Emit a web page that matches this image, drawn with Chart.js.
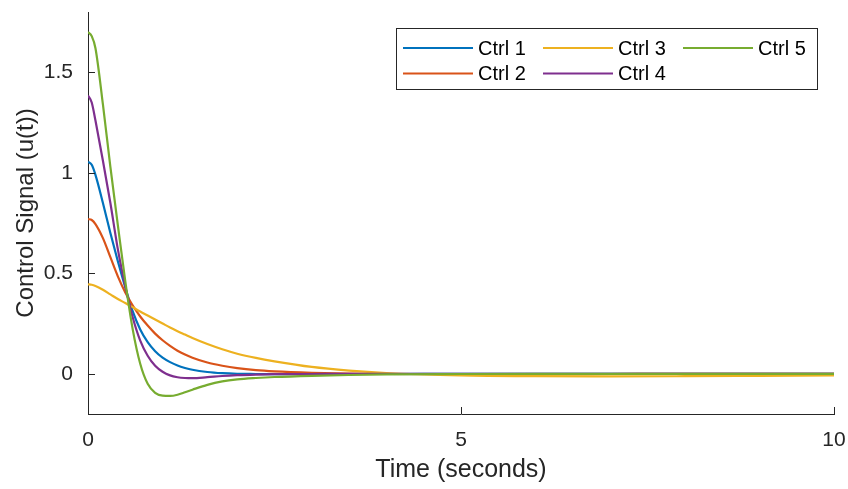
<!DOCTYPE html>
<html>
<head>
<meta charset="utf-8">
<script src="https://cdn.jsdelivr.net/npm/chart.js@4.4.1/dist/chart.umd.min.js"></script>
<style>
  html, body { margin: 0; padding: 0; background: #ffffff; }
  #wrap { width: 848px; height: 489px; }
</style>
</head>
<body>
<div id="wrap"><canvas id="c" width="848" height="489"></canvas></div>
<script>
// ---- Data ----
const times = [0, 0.05, 0.1, 0.2, 0.3, 0.4, 0.5, 0.6, 0.7, 0.8, 0.9, 1.0, 1.1, 1.2, 1.3, 1.4, 1.6, 1.8, 2.0, 2.25, 2.5, 3, 3.5, 4, 5, 6, 7, 8, 9, 10];
const seriesNames = ["Ctrl 1", "Ctrl 2", "Ctrl 3", "Ctrl 4", "Ctrl 5"];
const ctrl1 = [1.055, 1.04, 0.99, 0.85, 0.70, 0.56, 0.43, 0.31, 0.22, 0.157, 0.112, 0.08, 0.058, 0.041, 0.029, 0.02, 0.009, 0.003, 0.0, -0.001, -0.002, -0.002, -0.001, -0.001, 0, 0, 0, 0, 0, 0];
const ctrl2 = [0.77, 0.765, 0.745, 0.675, 0.58, 0.485, 0.405, 0.34, 0.285, 0.24, 0.20, 0.167, 0.139, 0.115, 0.096, 0.08, 0.056, 0.04, 0.028, 0.018, 0.012, 0.005, 0.001, -0.001, -0.002, -0.002, -0.001, 0, 0, 0];
const ctrl3 = [0.445, 0.443, 0.437, 0.418, 0.395, 0.372, 0.352, 0.331, 0.31, 0.29, 0.27, 0.25, 0.23, 0.212, 0.195, 0.178, 0.148, 0.122, 0.10, 0.079, 0.062, 0.034, 0.016, 0.004, -0.008, -0.012, -0.013, -0.012, -0.01, -0.008];
const ctrl4 = [1.385, 1.35, 1.26, 1.06, 0.85, 0.62, 0.435, 0.28, 0.165, 0.09, 0.04, 0.01, -0.008, -0.017, -0.021, -0.022, -0.017, -0.011, -0.007, -0.004, -0.002, -0.001, 0, 0, 0, 0, 0, 0, 0, 0];
const ctrl5 = [1.70, 1.68, 1.62, 1.34, 1.03, 0.74, 0.46, 0.22, 0.05, -0.05, -0.095, -0.109, -0.11, -0.104, -0.092, -0.079, -0.055, -0.038, -0.028, -0.021, -0.016, -0.01, -0.006, -0.003, -0.001, 0, 0, 0, 0, 0];
const xTicks = [0, 5, 10];
const yTicks = [0, 0.5, 1, 1.5];
const xTickLabels = ["0", "5", "10"];
const yTickLabels = ["0", "0.5", "1", "1.5"];
const xRange = [0, 10];
const yRange = [-0.2, 1.8];

// ---- Styling ----
const colors = ["#0072BD", "#D95319", "#EDB120", "#7E2F8E", "#77AC30"];
const FONT = "'Liberation Sans', Arial, Helvetica, sans-serif";
const AXIS = "#262626";

const allSeries = [ctrl1, ctrl2, ctrl3, ctrl4, ctrl5];
const datasets = allSeries.map((vals, i) => ({
  label: seriesNames[i],
  data: times.map((t, k) => ({ x: t, y: vals[k] })),
  borderColor: colors[i],
  backgroundColor: colors[i],
  borderWidth: 2.2,
  pointRadius: 0,
  fill: false,
  cubicInterpolationMode: 'monotone',
  order: 5 - i
}));

const innerTicks = {
  id: 'innerTicks',
  afterDraw(chart) {
    const ctx = chart.ctx;
    const xs = chart.scales.x, ys = chart.scales.y;
    const a = chart.chartArea;
    ctx.save();
    ctx.strokeStyle = AXIS;
    ctx.lineWidth = 1;
    ctx.beginPath();
    xs.ticks.forEach(t => {
      const px = Math.round(xs.getPixelForValue(t.value)) + 0.5;
      ctx.moveTo(px, a.bottom);
      ctx.lineTo(px, a.bottom - 7);
    });
    ys.ticks.forEach(t => {
      const py = Math.round(ys.getPixelForValue(t.value)) + 0.5;
      ctx.moveTo(a.left, py);
      ctx.lineTo(a.left + 7, py);
    });
    ctx.stroke();
    ctx.restore();
  }
};

const boxLegend = {
  id: 'boxLegend',
  afterDraw(chart) {
    const ctx = chart.ctx;
    const bx = 396, by = 28, bw = 421, bh = 61;
    ctx.save();
    ctx.fillStyle = '#ffffff';
    ctx.fillRect(bx, by, bw, bh);
    ctx.strokeStyle = AXIS;
    ctx.lineWidth = 1;
    ctx.strokeRect(bx + 0.5, by + 0.5, bw, bh);
    ctx.font = '20px ' + FONT;
    ctx.textBaseline = 'middle';
    ctx.textAlign = 'left';
    chart.data.datasets.forEach((d, i) => {
      const col = Math.floor(i / 2), row = i % 2;
      const x0 = 403 + col * 140;
      const y0 = 48 + row * 25.5;
      ctx.strokeStyle = d.borderColor;
      ctx.lineWidth = 2.2;
      ctx.beginPath();
      ctx.moveTo(x0, y0);
      ctx.lineTo(x0 + 70, y0);
      ctx.stroke();
      ctx.fillStyle = '#000000';
      ctx.fillText(d.label, x0 + 75, y0 + 1);
    });
    ctx.restore();
  }
};

new Chart(document.getElementById('c'), {
  type: 'line',
  data: { datasets },
  options: {
    responsive: false,
    devicePixelRatio: 1,
    animation: false,
    layout: { padding: { left: 0, right: 14, top: 12, bottom: 0 } },
    plugins: { legend: { display: false }, tooltip: { enabled: false } },
    scales: {
      x: {
        type: 'linear',
        min: xRange[0], max: xRange[1],
        afterBuildTicks: s => { s.ticks = xTicks.map(v => ({ value: v })); },
        afterFit: s => { s.height = 75; s.paddingLeft = 0; s.paddingRight = 0; },
        border: { display: true, color: AXIS, width: 1 },
        grid: { display: false, drawTicks: false },
        ticks: {
          color: AXIS, font: { family: FONT, size: 21 }, padding: 14, maxRotation: 0,
          callback: (v, i) => xTickLabels[i]
        },
        title: { display: true, text: 'Time (seconds)', color: AXIS, font: { family: FONT, size: 25 }, padding: { top: 0, bottom: 4 } }
      },
      y: {
        type: 'linear',
        min: yRange[0], max: yRange[1],
        afterBuildTicks: s => { s.ticks = yTicks.map(v => ({ value: v })); },
        afterFit: s => { s.width = 88; s.paddingTop = 0; s.paddingBottom = 0; },
        border: { display: true, color: AXIS, width: 1 },
        grid: { display: false, drawTicks: false },
        ticks: {
          color: AXIS, font: { family: FONT, size: 21 }, padding: 15,
          callback: (v, i) => yTickLabels[i]
        },
        title: { display: true, text: 'Control Signal (u(t))', color: AXIS, font: { family: FONT, size: 24 }, padding: { top: 12, bottom: 0 } }
      }
    }
  },
  plugins: [innerTicks, boxLegend]
});
</script>
</body>
</html>
